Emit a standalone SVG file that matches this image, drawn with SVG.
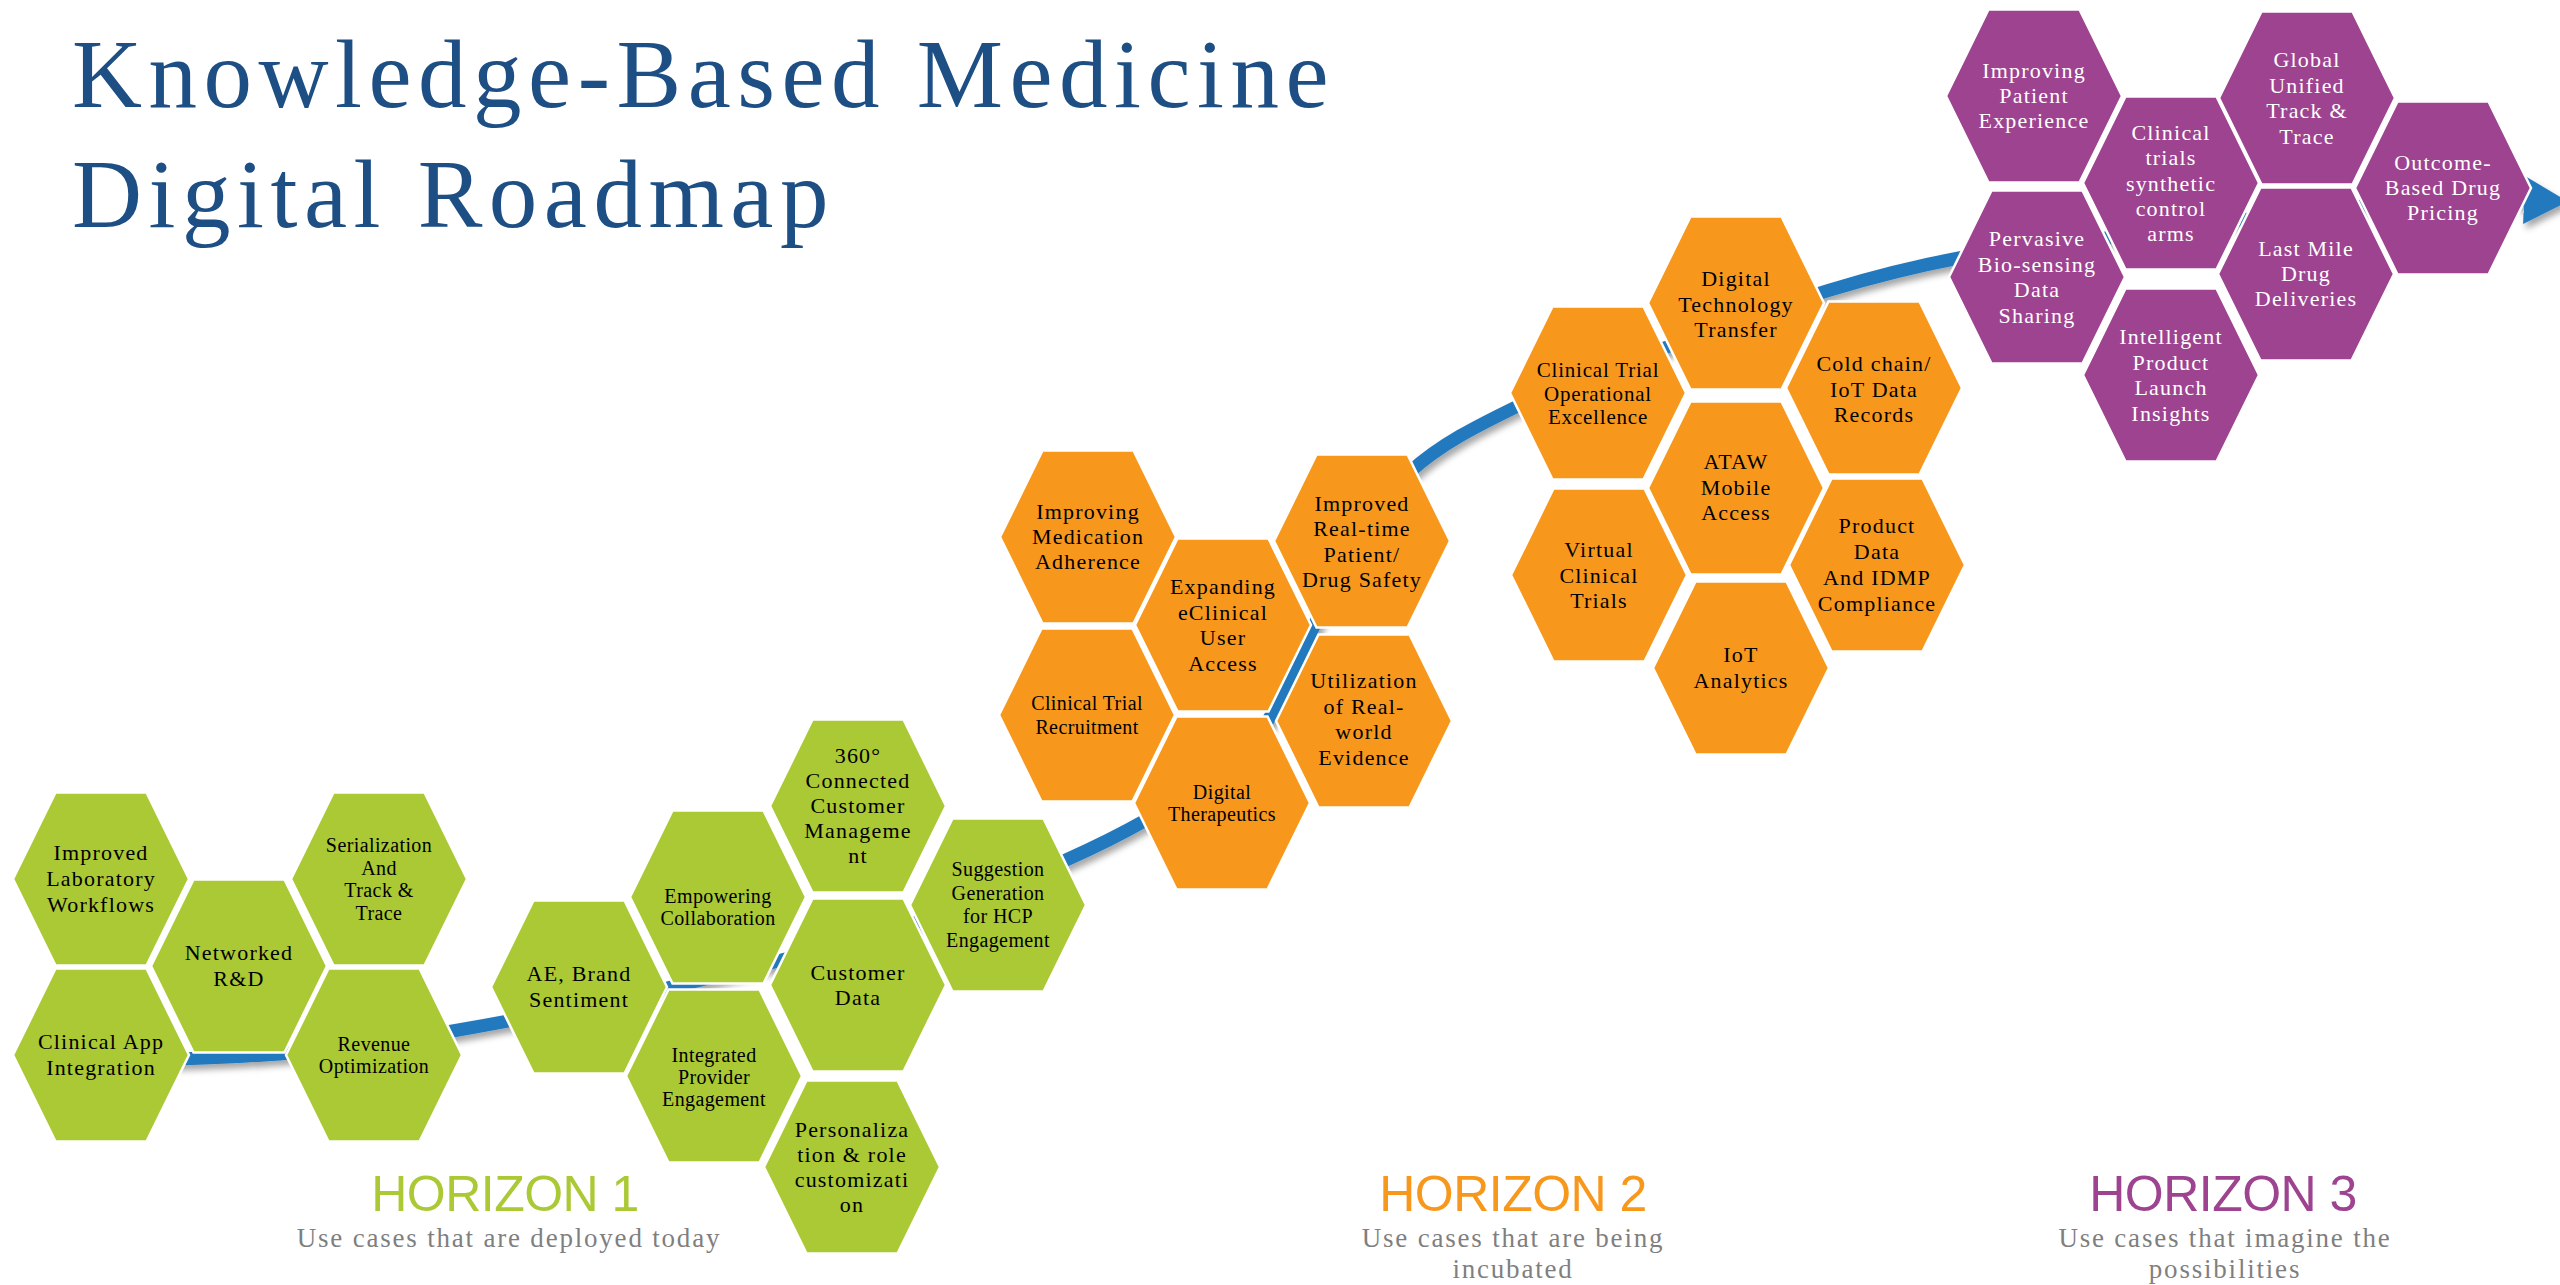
<svg xmlns="http://www.w3.org/2000/svg" xmlns:xlink="http://www.w3.org/1999/xlink" width="2560" height="1285" viewBox="0 0 2560 1285">
<style>
.g{fill:#AAC934;stroke:#FFFFFF;stroke-width:2.5}
.o{fill:#F7981D;stroke:#FFFFFF;stroke-width:2.5}
.p{fill:#9D4390;stroke:#FFFFFF;stroke-width:2.5}
text{font-family:"Liberation Serif","Times New Roman",serif;text-anchor:middle;fill:#000}
.tl{font-size:22px;letter-spacing:1.2px}
.ts{font-size:20px;letter-spacing:0.4px}
.tm{font-size:21px;letter-spacing:0.8px}
text.w{fill:#FFFFFF}
text.title{font-size:97px;letter-spacing:6.5px;fill:#1D4F85;text-anchor:start}
text.hz{font-family:"Liberation Sans",Arial,sans-serif;font-size:50px;letter-spacing:-0.5px}
text.h1{fill:#AAC934}
text.h2{fill:#F7981D}
text.h3{fill:#9D4390}
text.sub{font-size:27px;letter-spacing:1.8px;fill:#7F7F7F}
.flow{fill:none;stroke:#2479BE;stroke-width:13}
</style>
<defs>
<polygon id="hex" points="-88,0 -45.5,-86.5 45.5,-86.5 88,0 45.5,86.5 -45.5,86.5"/>
<marker id="ah" markerUnits="userSpaceOnUse" viewBox="0 0 44 48" markerWidth="44" markerHeight="48" refX="1" refY="24" orient="auto">
<path d="M0,0 L44,24 L0,48 Z" fill="#2479BE"/>
</marker>
<filter id="sh" x="-5%" y="-20%" width="110%" height="140%">
<feDropShadow dx="3" dy="5" stdDeviation="3" flood-color="#000" flood-opacity="0.35"/>
</filter>
</defs>
<rect width="2560" height="1285" fill="#FFFFFF"/>

<g id="title">
<text class="title" x="72" y="107">Knowledge-Based Medicine</text>
<text class="title" x="72" y="227">Digital Roadmap</text>
</g>

<g id="connectors" filter="url(#sh)">
<path class="flow" marker-end="url(#ah)" d="M150,1060 C173,1059 240.5,1057.7 290,1053 C339.5,1048.3 384.2,1042.8 447,1032 C509.8,1021.2 588.7,1006.3 667,988 C745.3,969.7 850.5,943.3 917,922 C983.5,900.7 1027.8,877 1066,860 C1104.2,843 1119,835.3 1146,820 C1173,804.7 1207,785.7 1228,768 C1249,750.3 1259.2,734.3 1272,714 C1284.8,693.7 1293.3,670.3 1305,646 C1316.7,621.7 1324.5,597 1342,568 C1359.5,539 1380.3,499.2 1410,472 C1439.7,444.5 1477.2,425.8 1520,405 C1562.8,384.2 1615.3,366.2 1667,347 C1718.7,327.8 1781.3,304.8 1830,290 C1878.7,275.2 1913,266.7 1959,258 C2005,249.3 2059,244.3 2106,238 C2153,231.7 2198.2,225.3 2241,220 C2283.8,214.7 2315.7,209.3 2363,206 C2410.3,202.7 2498,199 2525,200"/>
</g>

<!-- Horizon 1 (green) -->
<g id="n-improved-lab" transform="translate(101,879)"><use href="#hex" class="g"/>
<text class="tl" y="-19"><tspan x="0">Improved</tspan><tspan x="0" dy="26">Laboratory</tspan><tspan x="0" dy="26">Workflows</tspan></text></g>
<g id="n-clinical-app" transform="translate(101,1055)"><use href="#hex" class="g"/>
<text class="tl" y="-6"><tspan x="0">Clinical App</tspan><tspan x="0" dy="26">Integration</tspan></text></g>
<g id="n-networked" transform="translate(239,966)"><use href="#hex" class="g"/>
<text class="tl" y="-6"><tspan x="0">Networked</tspan><tspan x="0" dy="26">R&amp;D</tspan></text></g>
<g id="n-serialization" transform="translate(379,879)"><use href="#hex" class="g"/>
<text class="ts" y="-27"><tspan x="0">Serialization</tspan><tspan x="0" dy="22.5">And</tspan><tspan x="0" dy="22.5">Track &amp;</tspan><tspan x="0" dy="22.5">Trace</tspan></text></g>
<g id="n-revenue" transform="translate(374,1055)"><use href="#hex" class="g"/>
<text class="ts" y="-4"><tspan x="0">Revenue</tspan><tspan x="0" dy="22">Optimization</tspan></text></g>
<g id="n-ae-brand" transform="translate(579,987)"><use href="#hex" class="g"/>
<text class="tl" y="-6"><tspan x="0">AE, Brand</tspan><tspan x="0" dy="26">Sentiment</tspan></text></g>
<g id="n-empowering" transform="translate(718,897)"><use href="#hex" class="g"/>
<text class="ts" y="6"><tspan x="0">Empowering</tspan><tspan x="0" dy="22">Collaboration</tspan></text></g>
<g id="n-integrated" transform="translate(714,1076)"><use href="#hex" class="g"/>
<text class="ts" y="-14"><tspan x="0">Integrated</tspan><tspan x="0" dy="22">Provider</tspan><tspan x="0" dy="22">Engagement</tspan></text></g>
<g id="n-360" transform="translate(858,806)"><use href="#hex" class="g"/>
<text class="tl" y="-43"><tspan x="0">360°</tspan><tspan x="0" dy="25">Connected</tspan><tspan x="0" dy="25">Customer</tspan><tspan x="0" dy="25">Manageme</tspan><tspan x="0" dy="25">nt</tspan></text></g>
<g id="n-customer-data" transform="translate(858,985)"><use href="#hex" class="g"/>
<text class="tl" y="-5"><tspan x="0">Customer</tspan><tspan x="0" dy="25">Data</tspan></text></g>
<g id="n-personalization" transform="translate(852,1167)"><use href="#hex" class="g"/>
<text class="tl" y="-30"><tspan x="0">Personaliza</tspan><tspan x="0" dy="25">tion &amp; role</tspan><tspan x="0" dy="25">customizati</tspan><tspan x="0" dy="25">on</tspan></text></g>
<g id="n-suggestion" transform="translate(998,905)"><use href="#hex" class="g"/>
<text class="ts" y="-29"><tspan x="0">Suggestion</tspan><tspan x="0" dy="23.5">Generation</tspan><tspan x="0" dy="23.5">for HCP</tspan><tspan x="0" dy="23.5">Engagement</tspan></text></g>

<!-- Horizon 2 (orange) -->
<g id="n-medication" transform="translate(1088,537)"><use href="#hex" class="o"/>
<text class="tl" y="-18"><tspan x="0">Improving</tspan><tspan x="0" dy="25">Medication</tspan><tspan x="0" dy="25">Adherence</tspan></text></g>
<g id="n-trial-recruitment" transform="translate(1087,715)"><use href="#hex" class="o"/>
<text class="ts" y="-5"><tspan x="0">Clinical Trial</tspan><tspan x="0" dy="24">Recruitment</tspan></text></g>
<g id="n-eclinical" transform="translate(1223,625)"><use href="#hex" class="o"/>
<text class="tl" y="-31"><tspan x="0">Expanding</tspan><tspan x="0" dy="25.5">eClinical</tspan><tspan x="0" dy="25.5">User</tspan><tspan x="0" dy="25.5">Access</tspan></text></g>
<g id="n-therapeutics" transform="translate(1222,803)"><use href="#hex" class="o"/>
<text class="ts" y="-4"><tspan x="0">Digital</tspan><tspan x="0" dy="22">Therapeutics</tspan></text></g>
<g id="n-drug-safety" transform="translate(1362,541)"><use href="#hex" class="o"/>
<text class="tl" y="-30"><tspan x="0">Improved</tspan><tspan x="0" dy="25.3">Real-time</tspan><tspan x="0" dy="25.3">Patient/</tspan><tspan x="0" dy="25.3">Drug Safety</tspan></text></g>
<g id="n-real-world" transform="translate(1364,721)"><use href="#hex" class="o"/>
<text class="tl" y="-33"><tspan x="0">Utilization</tspan><tspan x="0" dy="25.5">of Real-</tspan><tspan x="0" dy="25.5">world</tspan><tspan x="0" dy="25.5">Evidence</tspan></text></g>
<g id="n-trial-ops" transform="translate(1598,393)"><use href="#hex" class="o"/>
<text class="tm" y="-16"><tspan x="0">Clinical Trial</tspan><tspan x="0" dy="23.5">Operational</tspan><tspan x="0" dy="23.5">Excellence</tspan></text></g>
<g id="n-tech-transfer" transform="translate(1736,303)"><use href="#hex" class="o"/>
<text class="tl" y="-17"><tspan x="0">Digital</tspan><tspan x="0" dy="25.5">Technology</tspan><tspan x="0" dy="25.5">Transfer</tspan></text></g>
<g id="n-cold-chain" transform="translate(1874,388)"><use href="#hex" class="o"/>
<text class="tl" y="-17"><tspan x="0">Cold chain/</tspan><tspan x="0" dy="25.5">IoT Data</tspan><tspan x="0" dy="25.5">Records</tspan></text></g>
<g id="n-ataw" transform="translate(1736,488)"><use href="#hex" class="o"/>
<text class="tl" y="-19"><tspan x="0">ATAW</tspan><tspan x="0" dy="25.5">Mobile</tspan><tspan x="0" dy="25.5">Access</tspan></text></g>
<g id="n-virtual-trials" transform="translate(1599,575)"><use href="#hex" class="o"/>
<text class="tl" y="-18"><tspan x="0">Virtual</tspan><tspan x="0" dy="25.5">Clinical</tspan><tspan x="0" dy="25.5">Trials</tspan></text></g>
<g id="n-idmp" transform="translate(1877,565)"><use href="#hex" class="o"/>
<text class="tl" y="-32"><tspan x="0">Product</tspan><tspan x="0" dy="26">Data</tspan><tspan x="0" dy="26">And IDMP</tspan><tspan x="0" dy="26">Compliance</tspan></text></g>
<g id="n-iot-analytics" transform="translate(1741,668)"><use href="#hex" class="o"/>
<text class="tl" y="-6"><tspan x="0">IoT</tspan><tspan x="0" dy="26">Analytics</tspan></text></g>

<!-- Horizon 3 (purple) -->
<g id="n-patient-exp" transform="translate(2034,96)"><use href="#hex" class="p"/>
<text class="tl w" y="-18"><tspan x="0">Improving</tspan><tspan x="0" dy="25">Patient</tspan><tspan x="0" dy="25">Experience</tspan></text></g>
<g id="n-synthetic" transform="translate(2171,183)"><use href="#hex" class="p"/>
<text class="tl w" y="-43"><tspan x="0">Clinical</tspan><tspan x="0" dy="25.3">trials</tspan><tspan x="0" dy="25.3">synthetic</tspan><tspan x="0" dy="25.3">control</tspan><tspan x="0" dy="25.3">arms</tspan></text></g>
<g id="n-global-track" transform="translate(2307,98)"><use href="#hex" class="p"/>
<text class="tl w" y="-31"><tspan x="0">Global</tspan><tspan x="0" dy="25.5">Unified</tspan><tspan x="0" dy="25.5">Track &amp;</tspan><tspan x="0" dy="25.5">Trace</tspan></text></g>
<g id="n-outcome" transform="translate(2443,188)"><use href="#hex" class="p"/>
<text class="tl w" y="-18"><tspan x="0">Outcome-</tspan><tspan x="0" dy="25">Based Drug</tspan><tspan x="0" dy="25">Pricing</tspan></text></g>
<g id="n-biosensing" transform="translate(2037,277)"><use href="#hex" class="p"/>
<text class="tl w" y="-31"><tspan x="0">Pervasive</tspan><tspan x="0" dy="25.5">Bio-sensing</tspan><tspan x="0" dy="25.5">Data</tspan><tspan x="0" dy="25.5">Sharing</tspan></text></g>
<g id="n-launch" transform="translate(2171,375)"><use href="#hex" class="p"/>
<text class="tl w" y="-31"><tspan x="0">Intelligent</tspan><tspan x="0" dy="25.5">Product</tspan><tspan x="0" dy="25.5">Launch</tspan><tspan x="0" dy="25.5">Insights</tspan></text></g>
<g id="n-last-mile" transform="translate(2306,274)"><use href="#hex" class="p"/>
<text class="tl w" y="-18"><tspan x="0">Last Mile</tspan><tspan x="0" dy="25">Drug</tspan><tspan x="0" dy="25">Deliveries</tspan></text></g>

<!-- Horizon labels -->
<g id="horizon1">
<text class="hz h1" x="505" y="1211">HORIZON 1</text>
<text class="sub" x="509" y="1247">Use cases that are deployed today</text>
</g>
<g id="horizon2">
<text class="hz h2" x="1513" y="1211">HORIZON 2</text>
<text class="sub" x="1513" y="1247"><tspan x="1513">Use cases that are being</tspan><tspan x="1513" dy="31">incubated</tspan></text>
</g>
<g id="horizon3">
<text class="hz h3" x="2223" y="1211">HORIZON 3</text>
<text class="sub" x="2225" y="1247"><tspan x="2225">Use cases that imagine the</tspan><tspan x="2225" dy="31">possibilities</tspan></text>
</g>
</svg>
